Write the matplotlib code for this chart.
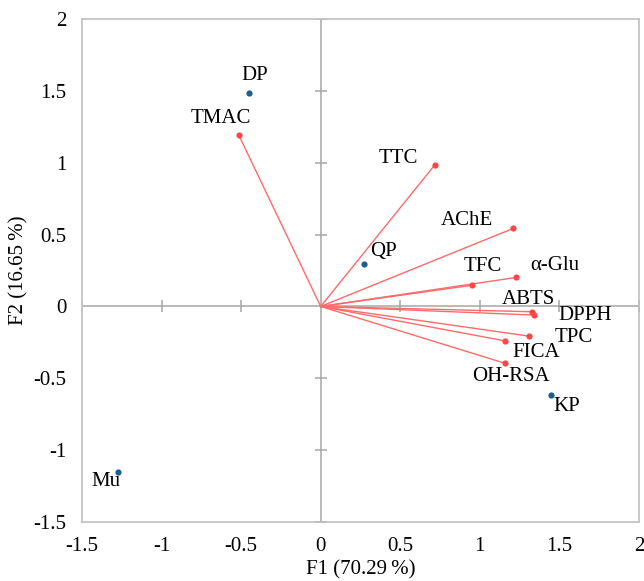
import numpy as np
import matplotlib
matplotlib.use("Agg")
import matplotlib.pyplot as plt

# variables (red vectors)
var_names = ["TMAC", "TTC", "AChE", "α-Glu", "TFC", "ABTS", "DPPH", "TPC", "FICA", "OH-RSA"]
var_f1 = [-0.516, 0.717, 1.21, 1.23, 0.948, 1.325, 1.34, 1.306, 1.16, 1.16]
var_f2 = [1.195, 0.985, 0.543, 0.202, 0.147, -0.037, -0.06, -0.206, -0.24, -0.396]
var_lab_x = [-0.629, 0.49, 0.916, 1.47, 1.02, 1.304, 1.66, 1.587, 1.352, 1.193]
var_lab_y = [1.31, 1.03, 0.596, 0.288, 0.276, 0.045, -0.06, -0.215, -0.322, -0.489]

# observations (blue points)
obs_names = ["DP", "QP", "KP", "Mu"]
obs_f1 = [-0.453, 0.272, 1.447, -1.275]
obs_f2 = [1.483, 0.293, -0.617, -1.15]
obs_lab_x = [-0.415, 0.392, 1.545, -1.348]
obs_lab_y = [1.604, 0.381, -0.698, -1.22]

ticks = [-1.5, -1, -0.5, 0, 0.5, 1, 1.5, 2]
tick_labels = ["-1.5", "-1", "-0.5", "0", "0.5", "1", "1.5", "2"]

plt.rcParams["font.family"] = ["Liberation Serif", "DejaVu Serif"]
fs = 15
red_pt = "#ff4545"
red_ln = "#ff6a6a"
blue = "#1b5f8e"
grey = "#a6a6a6"

fig = plt.figure(figsize=(6.44, 5.81), dpi=100)
ax = fig.add_axes([0.1273, 0.1015, 0.8649, 0.8658])
ax.set_xlim(-1.5, 2)
ax.set_ylim(-1.5, 2)

# zero axes with small cross ticks
ax.axhline(0, color=grey, lw=1.1, zorder=1)
ax.axvline(0, color=grey, lw=1.1, zorder=1)
tk = [t for t in ticks if t != 0]
ax.plot(tk, [0] * len(tk), ls="none", marker="|", ms=8, mew=1.1, color=grey, zorder=1)
ax.plot([0] * len(tk), tk, ls="none", marker="_", ms=8, mew=1.1, color=grey, zorder=1)

for x, y in zip(var_f1, var_f2):
    ax.plot([0, x], [0, y], color=red_ln, lw=1.0, zorder=2)
ax.scatter(var_f1, var_f2, s=20, color=red_pt, zorder=3, linewidths=0)
ax.scatter(obs_f1, obs_f2, s=20, color=blue, zorder=3, linewidths=0)

for name, x, y in zip(var_names, var_lab_x, var_lab_y):
    ax.text(x, y, name, fontsize=fs, ha="center", va="center")
for name, x, y in zip(obs_names, obs_lab_x, obs_lab_y):
    ax.text(x, y, name, fontsize=fs, ha="center", va="center")

ax.set_xticks(ticks)
ax.set_xticklabels(tick_labels)
ax.set_yticks(ticks)
ax.set_yticklabels(tick_labels)
ax.tick_params(length=0, labelsize=fs, pad=11)
for s in ax.spines.values():
    s.set_color("#c0c0c0")
    s.set_linewidth(1.2)

ax.set_xlabel("F1 (70.29\u2009%)", fontsize=fs, labelpad=3)
ax.set_ylabel("F2 (16.65\u2009%)", fontsize=fs, labelpad=4)

fig.savefig("out.png", dpi=100)
